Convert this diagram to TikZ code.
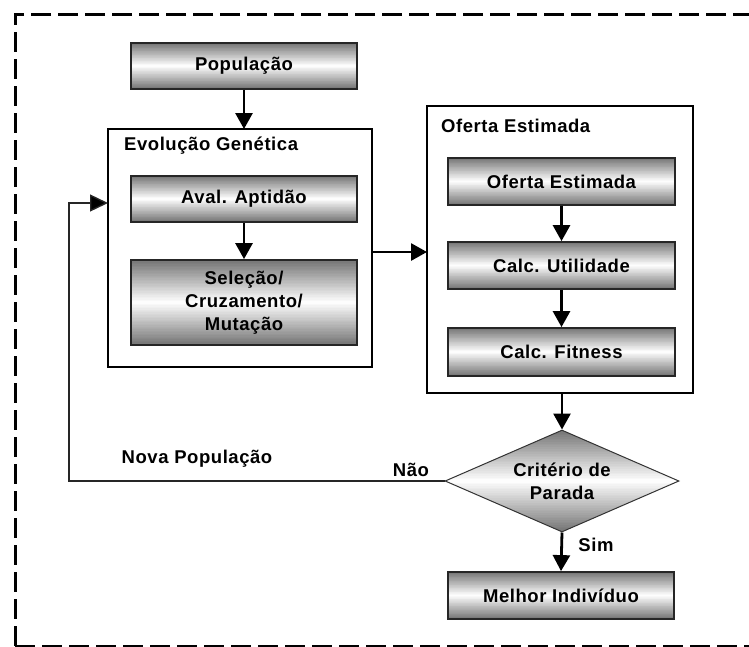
\documentclass[tikz,border=0pt]{standalone}
\usepackage{fontspec}
\setmainfont[LetterSpace=3]{Liberation Sans}
\usetikzlibrary{arrows.meta,shapes.geometric,calc}

% vertical metallic gradient: grey at top and bottom, white in the middle,
% painted as thin horizontal bands inside the node's outline
\newcommand{\metalbands}[1]{%
  \foreach \i in {0,...,59} {%
    \pgfmathsetmacro\tpos{abs(2*(\i+0.5)/60-1)}%
    \pgfmathsetmacro\kval{#1*\tpos}%
    \fill[black!\kval]
      ($(path picture bounding box.north west)!{\i/60}!(path picture bounding box.south west)$)
      rectangle
      ($(path picture bounding box.north east)!{(\i+1.4)/60}!(path picture bounding box.south east)$);
  }%
}

\begin{document}
\begin{tikzpicture}[x=1pt,y=-1pt,
  txt/.style={font=\fontsize{18.5}{23}\selectfont\bfseries},
  stepbox/.style={txt, draw=black!85, line width=1.8pt, rectangle,
    path picture={\metalbands{55}},
    minimum width=226pt, inner sep=0pt, align=center},
  groupbox/.style={draw=black, line width=2.6pt, fill=white},
  decision/.style={txt, draw=black!80, line width=1pt, diamond, aspect=2.3,
    path picture={\metalbands{55}},
    minimum width=234pt, minimum height=102pt, inner sep=0pt, align=center},
  flow/.style={line width=2.8pt, -{Triangle[length=16pt,width=17pt]}},
  back/.style={line width=1.4pt, draw=black!85,
    -{Triangle[length=18pt,width=17pt,fill=black]}},
  tag/.style={txt, inner sep=0pt}]

\useasboundingbox (0,0) rectangle (749,646);

% dashed frame around the whole flow, running off the right and lower edges
\begin{scope}
  \clip (0,0) rectangle (749,646);
  \draw[line width=3pt, dash pattern=on 20pt off 7pt] (780,14) -- (15,14) -- (15,680);
  \draw[line width=3pt, dash pattern=on 20pt off 7pt] (15,646) -- (780,646);
\end{scope}

% group containers
\draw[groupbox] (108,129) rectangle (372,367);
\coordinate (evoW) at (108,203);
\coordinate (evoE) at (372,252);
\coordinate (evoN) at (244,129);
\node[tag, anchor=west] (evoT) at (124,146) {Evolução Genética};

\draw[groupbox] (427,106) rectangle (693,393);
\coordinate (ofW) at (427,252);
\coordinate (ofS) at (562,393);
\node[tag, anchor=west] (ofT) at (441,126) {Oferta Estimada};

% process steps
\node[stepbox, minimum height=46pt] (pop) at (244,66) {População};
\node[stepbox, minimum height=46pt] (aval) at (244,199) {Aval. Aptidão};
\node[stepbox, minimum height=85pt] (sel) at (244,302.5) {Seleção/\\Cruzamento/\\Mutação};

\node[stepbox, minimum height=47pt, minimum width=227pt] (of1) at (561.5,181.5) {Oferta Estimada};
\node[stepbox, minimum height=47pt, minimum width=227pt] (util) at (561.5,265.5) {Calc. Utilidade};
\node[stepbox, minimum height=48pt, minimum width=227pt] (fit) at (561.5,352) {Calc. Fitness};

\node[decision] (crit) at (562,481) {Critério de\\Parada};
\node[stepbox, minimum height=47pt] (best) at (561,595.5) {Melhor Indivíduo};

% connectors
\draw[flow] (pop.south) -- (evoN);
\draw[flow] (aval.south) -- (sel.north);
\draw[flow] (evoE) -- (ofW);
\draw[flow] (of1.south) -- (util.north);
\draw[flow] (util.south) -- (fit.north);
\draw[flow] (ofS) -- (crit.north);
\draw[flow] (crit.south) -- (best.north);

\coordinate (loopB) at (69,481);
\coordinate (loopT) at (69,203);
\draw[back] (crit.west) -- (loopB) -- (loopT) -- (evoW);

% labels on the loop and exit
\node[tag] (nova) at (197,459) {Nova População};
\node[tag] (nao) at (411,470) {Não};
\node[tag] (sim) at (596,545) {Sim};

\end{tikzpicture}
\end{document}
